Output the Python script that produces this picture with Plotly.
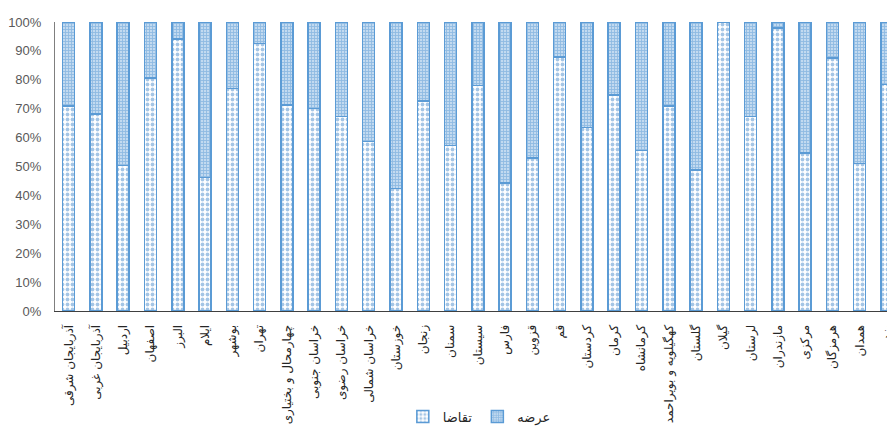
import plotly.graph_objects as go

provinces = [
    "آذربایجان شرقی", "آذربایجان غربی", "اردبیل", "اصفهان", "البرز", "ایلام",
    "بوشهر", "تهران", "چهارمحال و بختیاری", "خراسان جنوبی", "خراسان رضوی",
    "خراسان شمالی", "خوزستان", "زنجان", "سمنان", "سیستان", "فارس", "قزوین",
    "قم", "کردستان", "کرمان", "کرمانشاه", "کهگیلویه و بویراحمد", "گلستان",
    "گیلان", "لرستان", "مازندران", "مرکزی", "هرمزگان", "همدان", "یزد",
]

demand = [70.9, 68.2, 50.3, 80.7, 94.1, 46.2, 77.0, 92.5, 71.2, 70.0, 67.3,
          58.6, 42.4, 72.6, 57.2, 78.0, 44.3, 53.0, 87.9, 63.5, 74.7, 55.5,
          71.0, 48.8, 100.0, 67.3, 97.9, 54.6, 87.5, 51.1, 78.4]

supply = [29.1, 31.8, 49.7, 19.3, 5.9, 53.8, 23.0, 7.5, 28.8, 30.0, 32.7,
          41.4, 57.6, 27.4, 42.8, 22.0, 55.7, 47.0, 12.1, 36.5, 25.3, 44.5,
          29.0, 51.2, 0.0, 32.7, 2.1, 45.4, 12.5, 48.9, 21.6]

series_names = ["تقاضا", "عرضه"]
y_ticks = [0, 10, 20, 30, 40, 50, 60, 70, 80, 90, 100]

BLUE = "#5B9BD5"
FONT = "Tahoma, DejaVu Sans, sans-serif"

fig = go.Figure()
fig.add_trace(go.Bar(
    x=provinces, y=demand, name=series_names[0],
    marker=dict(
        color="white",
        line=dict(color=BLUE, width=1.5),
        pattern=dict(shape=".", fgcolor="#4A8CCB", bgcolor="white", size=5, solidity=0.45),
    ),
))
fig.add_trace(go.Bar(
    x=provinces, y=supply, name=series_names[1],
    marker=dict(
        color="#9DC3E6",
        line=dict(color=BLUE, width=1.5),
        pattern=dict(shape="+", fgcolor="#5B9BD5", bgcolor="#C2DAF0", size=3, solidity=0.5),
    ),
))

fig.update_layout(
    width=887, height=446,
    margin=dict(l=55, r=0, t=22, b=135),
    barmode="stack",
    bargap=0.56,
    plot_bgcolor="white",
    paper_bgcolor="white",
    font=dict(family=FONT, size=12, color="#262626"),
    showlegend=True,
    legend=dict(
        orientation="h", traceorder="normal",
        x=0.51, xanchor="center", y=-0.365, yanchor="middle",
        font=dict(family=FONT, size=13, color="#262626"),
        itemwidth=30, bgcolor="rgba(0,0,0,0)",
    ),
    xaxis=dict(
        type="category",
        range=[-0.5, 30.0],
        tickangle=-90,
        showline=True, linecolor="#404040", linewidth=1,
        ticks="", showgrid=False, automargin=False,
        ticklabelstandoff=8,
        tickfont=dict(family=FONT, size=12, color="#262626"),
        fixedrange=True,
    ),
    yaxis=dict(
        range=[0, 100],
        tickvals=y_ticks,
        ticktext=[f"{v}%" for v in y_ticks],
        showline=True, linecolor="#7F7F7F", linewidth=1,
        ticks="", showgrid=False, zeroline=False, automargin=False,
        ticklabelstandoff=10,
        tickfont=dict(family="Liberation Sans, Arial, sans-serif", size=13, color="#595959"),
        fixedrange=True,
    ),
)

fig.write_html(
    "out.html",
    config={"displayModeBar": False},
    post_script="document.body.style.margin='0';document.body.style.overflow='hidden';",
)
